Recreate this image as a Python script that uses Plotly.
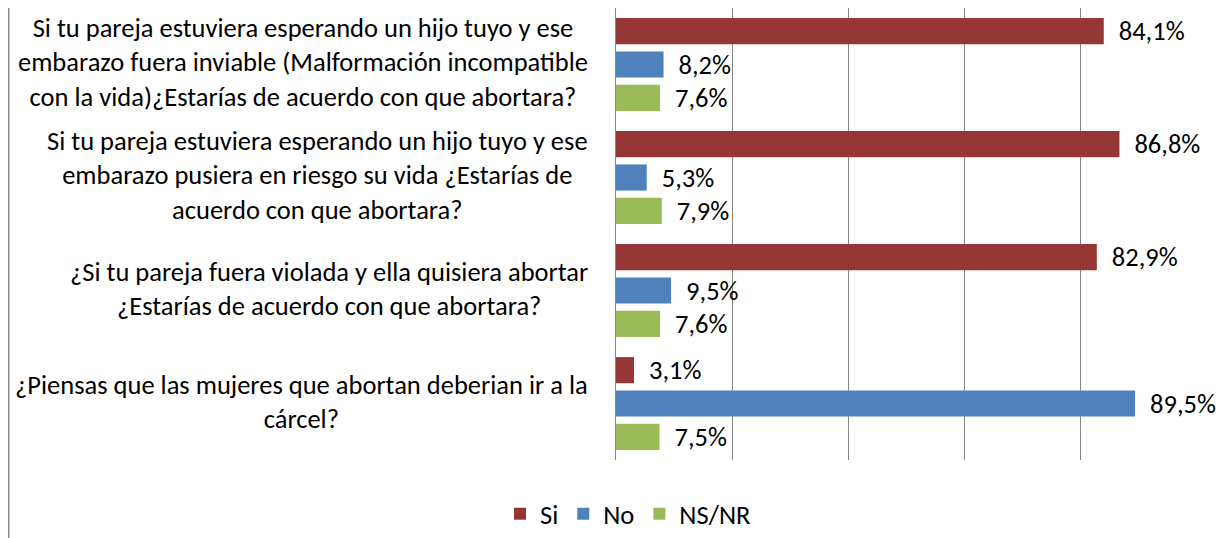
import plotly.graph_objects as go

# survey questions (top to bottom) and answers in percent
preguntas = [
    "Si tu pareja estuviera esperando un hijo tuyo y ese<br>embarazo fuera inviable (Malformación incompatible<br>con la vida)¿Estarías de acuerdo con que abortara?",
    "Si tu pareja estuviera esperando un hijo tuyo y ese<br>embarazo pusiera en riesgo su vida ¿Estarías de<br>acuerdo con que abortara?",
    "¿Si tu pareja fuera violada y ella quisiera abortar<br>¿Estarías de acuerdo con que abortara?",
    "¿Piensas que las mujeres que abortan deberian ir a la<br>cárcel?",
]
claves = ["P1", "P2", "P3", "P4"]
si = [84.1, 86.8, 82.9, 3.1]
no = [8.2, 5.3, 9.5, 89.5]
ns_nr = [7.6, 7.9, 7.6, 7.5]

series = [("Si", si, "#953735"), ("No", no, "#4F81BD"), ("NS/NR", ns_nr, "#9BBB59")]

FONT = "Calibri, Carlito, Lato, sans-serif"
SIZE = 26.5

fig = go.Figure()
for nombre, vals, color in series:
    fig.add_trace(go.Bar(
        name=nombre,
        y=claves,
        x=vals,
        orientation="h",
        marker=dict(color=color, line=dict(width=0)),
        text=["\u00a0\u00a0" + f"{v:.1f}%".replace(".", ",") for v in vals],
        textposition="outside",
        constraintext="none",
        cliponaxis=False,
        textfont=dict(family=FONT, size=SIZE, color="black"),
        hoverinfo="x+name",
    ))

# question texts, centred lines, right edge left of the plot
for clave, texto in zip(claves, preguntas):
    fig.add_annotation(x=0, xref="paper", y=clave, yref="y", text=texto,
                       xanchor="right", yanchor="middle", align="center",
                       xshift=-26, yshift=2, showarrow=False,
                       font=dict(family=FONT, size=SIZE, color="black"))

# chart frame, left edge
fig.add_shape(type="line", xref="paper", yref="paper",
              x0=-1.047, x1=-1.047, y0=-0.2, y1=1.1,
              line=dict(color="#868686", width=1.5))

fig.update_layout(
    width=1220, height=530,
    margin=dict(l=608, r=32, t=0, b=65),
    paper_bgcolor="white", plot_bgcolor="white",
    barmode="group", bargap=0.115, bargroupgap=0.217,
    font=dict(family=FONT, size=SIZE, color="black"),
    showlegend=True,
    legend=dict(orientation="h", x=-0.2, xanchor="left", y=-0.12,
                yanchor="middle", font=dict(family=FONT, size=SIZE),
                traceorder="normal", itemwidth=30),
    xaxis=dict(range=[0, 100], dtick=20, showticklabels=False,
               showgrid=True, gridcolor="#868686", gridwidth=1,
               zeroline=False, showline=False, ticks=""),
    yaxis=dict(autorange="reversed", showticklabels=False, showgrid=False,
               showline=True, linecolor="#868686", linewidth=1, ticks=""),
)

fig.write_html("out.html")
